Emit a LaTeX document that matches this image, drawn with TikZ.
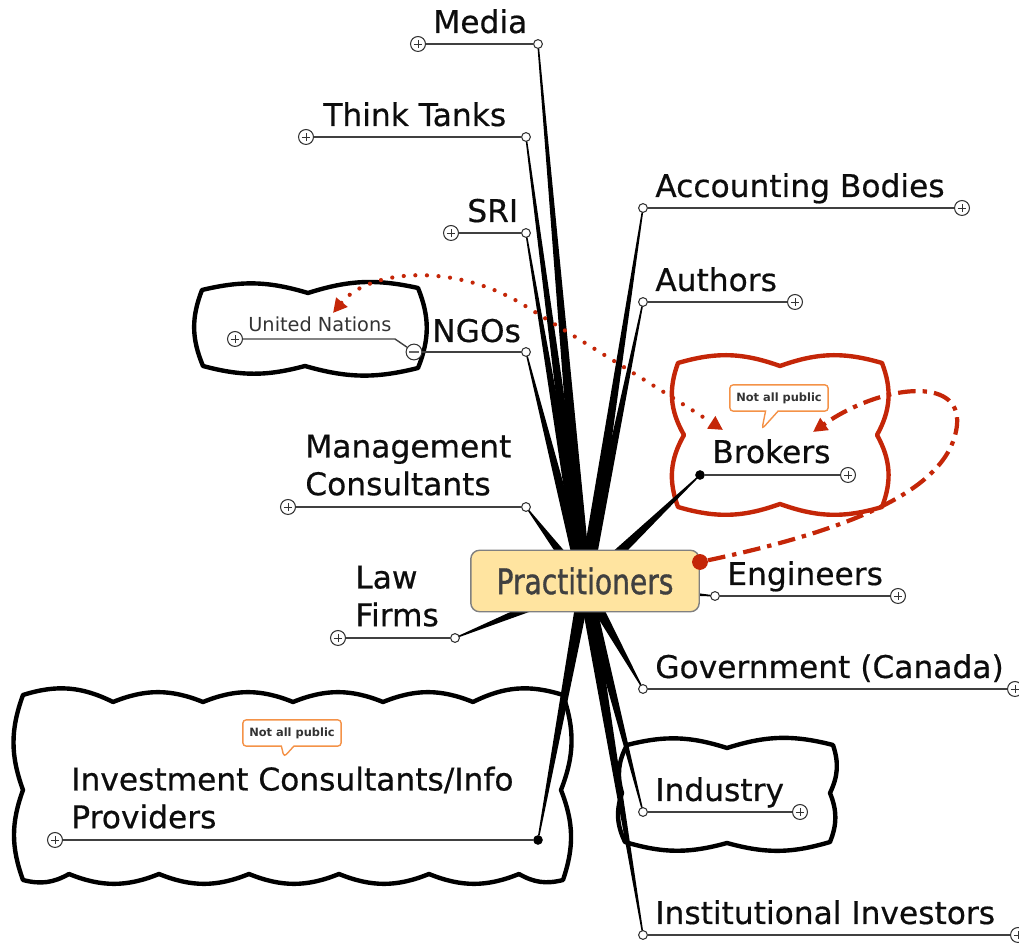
\documentclass[tikz,border=0pt]{standalone}
\usepackage{fontspec}
\setmainfont{DejaVu Sans}
\newfontfamily\labelfont[FakeBold=0.5]{DejaVu Sans}
\newfontfamily\boxfont[FakeStretch=0.8,FakeBold=1]{DejaVu Sans}
\usetikzlibrary{calc,shapes.callouts,arrows.meta}

\definecolor{linkred}{RGB}{196,38,8}
\definecolor{notebrd}{RGB}{244,146,72}
\definecolor{centrefill}{RGB}{255,228,160}

\tikzset{
  topic/.style={font=\labelfont\fontsize{17.8}{21.5}\selectfont, text=black!95, inner sep=0pt, align=left},
  subtopic/.style={font=\fontsize{11}{13}\selectfont, text=black!80, inner sep=0pt, anchor=base west},
  underline/.style={draw=black!75, line width=0.8pt},
  knob/.style={circle, draw=black!80, fill=white, line width=0.6pt, minimum size=5pt, inner sep=0pt},
  pin/.style={circle, fill=black, minimum size=5.5pt, inner sep=0pt},
  expander/.style={circle, draw=black!80, fill=white, line width=0.6pt, minimum size=8.5pt, inner sep=0pt,
    path picture={\draw[line width=0.5pt] ($(path picture bounding box.center)+(-2.4pt,0pt)$) -- ++(4.8pt,0pt);
                  \draw[line width=0.5pt] ($(path picture bounding box.center)+(0pt,-2.4pt)$) -- ++(0pt,4.8pt);}},
  collapser/.style={circle, draw=black!80, fill=white, line width=0.6pt, minimum size=9pt, inner sep=0pt,
    path picture={\draw[line width=0.8pt, black!60] ($(path picture bounding box.center)+(-2.6pt,0pt)$) -- ++(5.2pt,0pt);}},
  cloudline/.style={line width=2.5pt, line join=round},
  note/.style={rectangle callout, draw=notebrd, line width=0.8pt, fill=white, rounded corners=2pt,
    font=\fontsize{6.5}{7}\selectfont\bfseries, text=black!80, minimum width=56pt, minimum height=15pt, inner sep=2pt},
  link/.style={draw=linkred, line width=2.4pt},
}

% tapered branch from the hub (585,585) to a knob at (#2,#3)
\newcommand{\spoke}[3]{%
  \pgfmathsetmacro{\len}{veclen(#2-585,#3-585)}%
  \pgfmathsetmacro{\px}{-6.5*(#3-585)/\len}%
  \pgfmathsetmacro{\py}{6.5*(#2-585)/\len}%
  \fill ($(hub)+(\px,\py)$) -- ($(#1.center)!2.6pt!(hub)+(0.12*\px,0.12*\py)$)
    -- ($(#1.center)!2.6pt!(hub)-(0.12*\px,0.12*\py)$) -- ($(hub)-(\px,\py)$) -- cycle;}

\begin{document}
\begin{tikzpicture}[x=0.02cm, y=-0.02cm]
  \useasboundingbox (0,0) rectangle (1019,945);

  % clouds
  \draw[cloudline] (202,290) to[bend left=15] (308,293) to[bend left=15] (418,288) to[bend left=22] (418,368)
    to[bend left=15] (305,366) to[bend left=15] (203,366) to[bend left=22] cycle;
  \draw[cloudline] (23,695) to[bend left=22] (113,702) to[bend left=22] (203,702) to[bend left=22] (293,702)
    to[bend left=22] (383,702) to[bend left=22] (473,702) to[bend left=22] (563,695)
    to[bend left=20] (561,790) to[bend left=20] (563,880)
    to[bend left=22] (519,874) to[bend left=22] (429,874) to[bend left=22] (339,874) to[bend left=22] (249,874)
    to[bend left=22] (159,874) to[bend left=22] (69,874) to[bend left=22] (23,880)
    to[bend left=20] (23,790) to[bend left=20] cycle;
  \draw[cloudline] (627,745) to[bend left=16] (727,748) to[bend left=16] (833,745) to[bend left=22] (830,793)
    to[bend left=22] (830,842) to[bend left=16] (727,843) to[bend left=16] (625,842) to[bend left=22] (622,793)
    to[bend left=22] cycle;
  \draw[cloudline, linkred] (678,363) to[bend left=18] (780,366) to[bend left=18] (882,363) to[bend left=25] (877,435)
    to[bend left=25] (882,507) to[bend left=18] (780,504) to[bend left=18] (678,507) to[bend left=25] (684,435)
    to[bend left=25] cycle;

  \coordinate (hub) at (585,585);

  % left branches
  \node[knob] (media-k) at (538,44) {};
  \node[expander] (media-x) at (418,44) {};
  \node[topic, anchor=base west] (media-t) at (433,33) {Media};
  \node[knob] (think-k) at (526,137) {};
  \node[expander] (think-x) at (306,137) {};
  \node[topic, anchor=base west] (think-t) at (323,126) {Think Tanks};
  \node[knob] (sri-k) at (526,233) {};
  \node[expander] (sri-x) at (451,233) {};
  \node[topic, anchor=base west] (sri-t) at (467,222) {SRI};
  \node[knob] (ngos-k) at (526,352) {};
  \node[collapser] (ngos-x) at (414,352) {};
  \node[topic, anchor=base west] (ngos-t) at (432,342) {NGOs};
  \coordinate (un-bend) at (395,339);
  \node[expander] (un-x) at (235,339) {};
  \node[subtopic] (un-t) at (248,332) {United Nations};
  \node[knob] (mgmt-k) at (526,507) {};
  \node[expander] (mgmt-x) at (288,507) {};
  \node[topic, anchor=south west] (mgmt-t) at (305,496) {Management\\Consultants};
  \node[knob] (law-k) at (455,638) {};
  \node[expander] (law-x) at (338,638) {};
  \node[topic, anchor=south west] (law-t) at (355,627) {Law\\Firms};
  \node[pin] (invest-k) at (538,840) {};
  \node[expander] (invest-x) at (55,840) {};
  \node[topic, anchor=south west] (invest-t) at (71,829) {Investment Consultants/Info\\Providers};

  % right branches
  \node[knob] (acct-k) at (643,208) {};
  \node[expander] (acct-x) at (962,208) {};
  \node[topic, anchor=base west] (acct-t) at (655,197) {Accounting Bodies};
  \node[knob] (auth-k) at (643,302) {};
  \node[expander] (auth-x) at (795,302) {};
  \node[topic, anchor=base west] (auth-t) at (655,291) {Authors};
  \node[pin] (brk-k) at (700,475) {};
  \node[expander] (brk-x) at (848,475) {};
  \node[topic, anchor=base west] (brk-t) at (712,463) {Brokers};
  \node[knob] (eng-k) at (715,596) {};
  \node[expander] (eng-x) at (898,596) {};
  \node[topic, anchor=base west] (eng-t) at (727,585) {Engineers};
  \node[knob] (gov-k) at (643,689) {};
  \node[expander] (gov-x) at (1015,689) {};
  \node[topic, anchor=base west] (gov-t) at (655,678) {Government (Canada)};
  \node[knob] (ind-k) at (643,812) {};
  \node[expander] (ind-x) at (800,812) {};
  \node[topic, anchor=base west] (ind-t) at (655,801) {Industry};
  \node[knob] (inst-k) at (643,935) {};
  \node[expander] (inst-x) at (1018,935) {};
  \node[topic, anchor=base west] (inst-t) at (655,924) {Institutional Investors};

  % underlines
  \foreach \b in {media,think,sri,ngos,mgmt,law,invest,acct,auth,brk,eng,gov,ind,inst}
    \draw[underline] (\b-k) -- (\b-x);
  \draw[underline] (ngos-x) -- (un-bend) -- (un-x);

  % spokes
  \foreach \b/\ex/\ey in {media/538/44, think/526/137, sri/526/233, ngos/526/352, mgmt/526/507, law/455/638,
      invest/538/840, acct/643/208, auth/643/302, brk/700/475, eng/715/596, gov/643/689, ind/643/812, inst/643/935}
    {\spoke{\b-k}{\ex}{\ey}}

  \node[draw=black!50, fill=centrefill, rounded corners=5pt, line width=0.8pt, minimum width=130pt, minimum height=35pt,
    font=\boxfont\fontsize{20}{22}\selectfont, text=black!75] (centre) at (585,581) {Practitioners};

  % relationships
  \node[circle, fill=linkred, minimum size=9pt, inner sep=0pt] (linkdot) at (700,562) {};
  \coordinate (un-tip) at (333,313);
  \coordinate (brk-tip1) at (723,430);
  \coordinate (brk-tip2) at (813,432);
  \draw[link, line cap=round, dash pattern=on 0pt off 6.6pt, {Triangle[length=8pt,width=8pt]}-{Triangle[length=8pt,width=8pt]}]
    (un-tip) .. controls (370,268) and (460,262) .. (530,309) .. controls (600,352) and (680,402) .. (brk-tip1);
  \draw[link, dash pattern=on 10pt off 4pt on 2.5pt off 4pt, -{Triangle[length=8pt,width=8pt]}]
    (linkdot) .. controls (850,530) and (950,490) .. (957,425) .. controls (962,375) and (880,385) .. (brk-tip2);

  % notes
  \node[note, callout absolute pointer={(762,429)}] (brk-note) at (779,398) {Not all public};
  \node[note, callout absolute pointer={(284,757)}] (invest-note) at (292,733) {Not all public};
\end{tikzpicture}
\end{document}
